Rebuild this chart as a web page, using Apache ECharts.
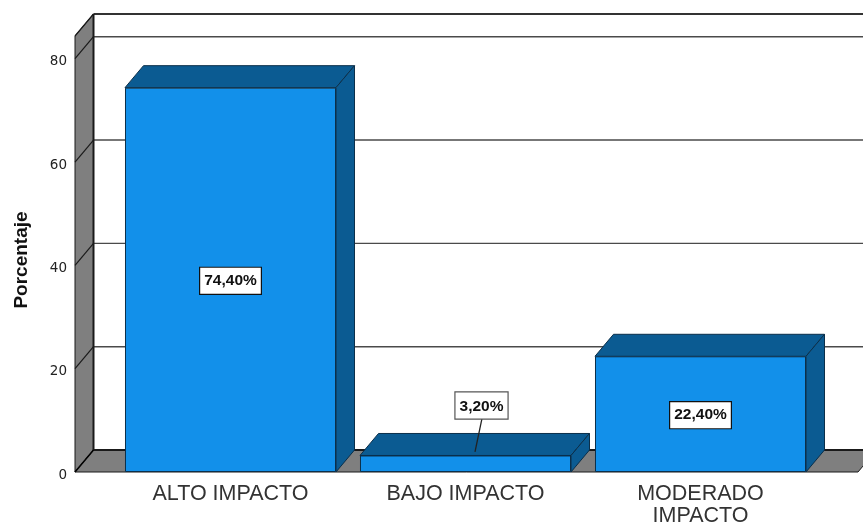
<!DOCTYPE html>
<html><head><meta charset="utf-8">
<style>html,body{margin:0;padding:0;background:#fff}#c{width:863px;height:524px}</style>
<script src="https://cdn.jsdelivr.net/npm/echarts@6/dist/echarts.min.js"></script>
</head><body><div id="c"></div>
<script>
const categories = ['ALTO IMPACTO', 'BAJO IMPACTO', 'MODERADO\nIMPACTO'];
const percentages = [74.4, 3.2, 22.4];
const yTicks = [0, 20, 40, 60, 80];
const yMax = 84.4;

const DX = 18.5, DY = -22, LEFT_EXT = 38, RIGHT_EXT = 40;
const fmt = v => v.toFixed(2).replace('.', ',') + '%';
const dark = '#1a1a1a';
const line = (x1, y1, x2, y2, color, w) => ({
  type: 'line', shape: {x1, y1, x2, y2}, style: {stroke: color, lineWidth: w, fill: null}
});
const poly = (points, fill, stroke, w) => ({
  type: 'polygon', shape: {points}, style: {fill, stroke, lineWidth: w}
});

function renderRoom(params, api) {
  const cs = params.coordSys;
  const xL = cs.x - LEFT_EXT, xR = cs.x + cs.width + RIGHT_EXT;
  const y0 = api.coord([0, 0])[1], yT = api.coord([0, yMax])[1];
  const ch = [];
  ch.push(poly([[xL + DX, yT + DY], [xR + DX, yT + DY], [xR + DX, y0 + DY], [xL + DX, y0 + DY]], '#fff', 'none', 0));
  ch.push(poly([[xL, y0], [xL + DX, y0 + DY], [xL + DX, yT + DY], [xL, yT]], '#7f7f7f', dark, 1));
  ch.push(poly([[xL, y0], [xR, y0], [xR + DX, y0 + DY], [xL + DX, y0 + DY]], '#7f7f7f', dark, 1));
  yTicks.slice(1).forEach(t => {
    const y = api.coord([0, t])[1];
    ch.push(line(xL + DX, y + DY, xR + DX, y + DY, '#4a4a4a', 1.4));
    ch.push(line(xL, y, xL + DX, y + DY, dark, 1.2));
  });
  ch.push(line(xL + DX, yT + DY, xR + DX, yT + DY, '#333', 2));
  ch.push(line(xL + DX, yT + DY, xL + DX, y0 + DY, dark, 2));
  ch.push(line(xL + DX, y0 + DY, xR + DX, y0 + DY, dark, 2));
  ch.push(line(xL, y0, xL + DX, y0 + DY, '#000', 1.5));
  ch.push(line(xL, yT, xL + DX, yT + DY, dark, 1.2));
  return {type: 'group', children: ch};
}

function renderDepth(params, api) {
  const idx = api.value(0), v = api.value(1);
  const band = api.size([1, 0])[0];
  const w = band * 0.898;
  const c = api.coord([idx, v]), b = api.coord([idx, 0]);
  const l = c[0] - w / 2, r = c[0] + w / 2, t = c[1], y0 = b[1];
  const edge = '#0b2f4a', shade = '#0b5b92';
  const ch = [
    poly([[l, t], [r, t], [r + DX, t + DY], [l + DX, t + DY]], shade, edge, 1),
    poly([[r, t], [r + DX, t + DY], [r + DX, y0 + DY], [r, y0]], shade, edge, 1)
  ];
  if (idx === 1) ch.push(line(c[0] + 16.5, t - 37, c[0] + 9.5, t - 3.5, '#222', 1.3));
  return {type: 'group', children: ch};
}

const labelBase = {
  show: true, position: 'inside', formatter: p => fmt(p.value),
  fontFamily: 'Liberation Sans', fontWeight: 'bold', fontSize: 15.5, color: '#111',
  backgroundColor: '#fff', borderColor: '#111', borderWidth: 1.2,
  padding: [6, 4, 4, 4]
};

const chart = echarts.init(document.getElementById('c'), null, {renderer: 'canvas'});
chart.setOption({
  animation: false,
  backgroundColor: '#fff',
  grid: {left: 113, right: 45, top: 36, bottom: 52, outerBoundsMode: 'none'},
  xAxis: {
    type: 'category', data: categories,
    axisLine: {show: false}, axisTick: {show: false},
    axisLabel: {
      fontFamily: 'Liberation Sans', fontSize: 21.5, color: '#333',
      lineHeight: 22, margin: 11, interval: 0
    }
  },
  yAxis: {
    type: 'value', min: 0, max: yMax, interval: 20, offset: LEFT_EXT,
    axisLine: {show: false}, axisTick: {show: false}, splitLine: {show: false},
    axisLabel: {
      customValues: yTicks, fontFamily: 'DejaVu Sans', fontSize: 13.5, color: '#222',
      margin: 8, verticalAlign: 'top', lineHeight: 6
    },
    name: 'Porcentaje', nameLocation: 'middle', nameRotate: 90, nameGap: 44,
    nameTextStyle: {fontFamily: 'Liberation Sans', fontWeight: 'bold', fontSize: 19, color: '#111', padding: [0, 12, 0, 0]}
  },
  series: [
    {type: 'custom', z: 1, silent: true, clip: false, renderItem: renderRoom, data: [[0, 0]]},
    {type: 'custom', z: 2, silent: true, clip: false, renderItem: renderDepth,
     data: percentages.map((v, i) => [i, v])},
    {type: 'bar', z: 3, barWidth: '89.8%', silent: true,
     itemStyle: {color: '#1290ea', borderColor: '#0b2f4a', borderWidth: 1},
     label: labelBase,
     data: percentages.map((v, i) => i === 1
       ? {value: v, label: {position: 'top', distance: 0, offset: [16, -37], borderColor: '#555'}}
       : {value: v, label: {offset: [0, 1]}})}
  ]
});
</script></body></html>
